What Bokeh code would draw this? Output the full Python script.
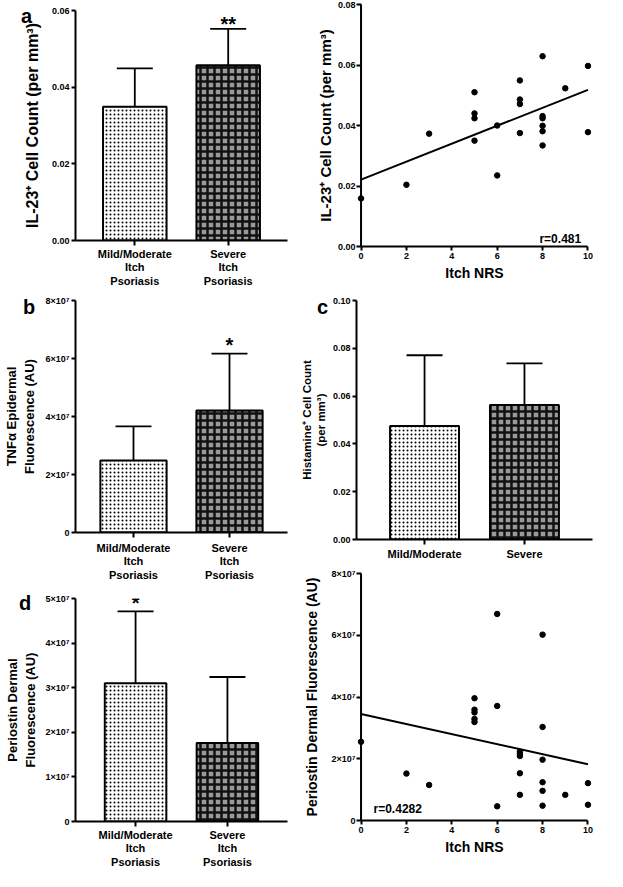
from bokeh.plotting import figure
from bokeh.models import (FactorRange, Range1d, FixedTicker, Whisker, TeeHead,
                          ColumnDataSource, Label, Span, NumeralTickFormatter, Div)
from bokeh.layouts import row, column
from bokeh.core.properties import value
from bokeh.embed import file_html
from bokeh.resources import INLINE

FONT = "Liberation Sans"

# ---------------- data ----------------
groups = ["Mild/Moderate\nItch\nPsoriasis", "Severe\nItch\nPsoriasis"]
groups_c = ["Mild/Moderate", "Severe"]
panel_letters = ["a", "b", "c", "d"]

il23_mean = [0.0349, 0.0457]
il23_err = [0.0100, 0.0095]
il23_sig = ["", "**"]
il23_ticks = [0.0, 0.02, 0.04, 0.06]

tnf_mean = [2.48e7, 4.21e7]
tnf_err = [1.18e7, 1.96e7]
tnf_sig = ["", "*"]
tnf_ticks = [0, 20000000, 40000000, 60000000, 80000000]
tnf_tick_labels = ["0", "2×10⁷", "4×10⁷", "6×10⁷", "8×10⁷"]

hist_mean = [0.0475, 0.0563]
hist_err = [0.0296, 0.0174]
hist_ticks = [0.0, 0.02, 0.04, 0.06, 0.08, 0.10]

peri_mean = [3.10e7, 1.76e7]
peri_err = [1.61e7, 1.48e7]
peri_sig = ["*", ""]
peri_ticks = [0, 10000000, 20000000, 30000000, 40000000, 50000000]
peri_tick_labels = ["0", "1×10⁷", "2×10⁷", "3×10⁷", "4×10⁷", "5×10⁷"]

nrs_a = [0, 2, 3, 5, 5, 5, 5, 6, 6, 7, 7, 7, 7, 8, 8, 8, 8, 8, 8, 9, 10, 10]
il23_pts = [0.0159, 0.0204, 0.0373, 0.0510, 0.0440, 0.0424, 0.0350, 0.0400, 0.0235,
            0.0549, 0.0486, 0.0471, 0.0375, 0.0629, 0.0431, 0.0424, 0.0399, 0.0381,
            0.0334, 0.0523, 0.0597, 0.0378]
fit_a_x = [0, 10]
fit_a_y = [0.0221, 0.0518]
r_a = "r=0.481"

nrs_d = [0, 2, 3, 5, 5, 5, 5, 5, 6, 6, 6, 7, 7, 7, 7, 7, 8, 8, 8, 8, 8, 8, 9, 10, 10]
peri_pts = [2.55e7, 1.52e7, 1.15e7, 3.96e7, 3.59e7, 3.50e7, 3.29e7, 3.19e7, 6.69e7,
            3.71e7, 0.46e7, 2.23e7, 2.16e7, 2.09e7, 1.53e7, 0.83e7, 6.02e7, 3.03e7,
            1.97e7, 1.24e7, 0.96e7, 0.48e7, 0.83e7, 1.21e7, 0.51e7]
fit_d_x = [0, 10]
fit_d_y = [3.45e7, 1.82e7]
r_d = "r=0.4282"

nrs_ticks = [0, 2, 4, 6, 8, 10]
il23_sc_ticks = [0.0, 0.02, 0.04, 0.06, 0.08]
peri_sc_ticks = [0, 20000000, 40000000, 60000000, 80000000]
peri_sc_labels = ["0", "2×10⁷", "4×10⁷", "6×10⁷", "8×10⁷"]

LW, LH = 20, 22  # box of the panel-letter element


def letter_box(letter, host_h, ty, lx):
    """Panel letter, overlaid on its host figure through negative margins."""
    return Div(text=letter, width=LW, height=LH,
               margin=(-host_h + ty, 0, host_h - ty - LH, lx),
               styles={"font-family": FONT, "font-weight": "bold", "font-size": "20px",
                       "line-height": "20px", "color": "black", "overflow": "visible",
                       "flex-shrink": "0", "padding": "0"})


def base_fig(w, h, x_range, y_range, mbl, mbr, mbt, mbb):
    p = figure(width=w, height=h, x_range=x_range, y_range=y_range,
               output_backend="svg", toolbar_location=None,
               min_border_left=mbl, min_border_right=mbr,
               min_border_top=mbt, min_border_bottom=mbb)
    p.xgrid.visible = False
    p.ygrid.visible = False
    p.outline_line_color = None
    p.background_fill_color = "white"
    p.border_fill_alpha = 0
    for ax in p.axis:
        ax.axis_line_width = 2
        ax.axis_line_color = "black"
        ax.major_tick_line_width = 2
        ax.major_tick_line_color = "black"
        ax.major_tick_out = 4
        ax.major_tick_in = 0
        ax.minor_tick_out = 0
        ax.minor_tick_in = 0
        ax.major_label_text_font = FONT
        ax.major_label_text_font_style = "bold"
        ax.major_label_text_color = "black"
        ax.major_label_standoff = 2
        ax.axis_label_text_font = FONT
        ax.axis_label_text_font_style = "bold"
        ax.axis_label_text_color = "black"
    return p


def bar_panel(w, h, cats, means, errs, ymax, ticks, pad, bw, mbl, mbr, mbt, mbb,
              ytitle, ytitle_size, ytitle_standoff, tick_size, cat_standoff,
              sig=None, sig_offset=0, tick_labels=None):
    p = base_fig(w, h, FactorRange(*cats, range_padding=pad), Range1d(0, ymax),
                 mbl, mbr, mbt, mbb)
    src = ColumnDataSource(dict(x=cats, top=means,
                                upper=[m + e for m, e in zip(means, errs)]))
    p.add_layout(Whisker(source=src, base="x", lower="top", upper="upper",
                         line_width=1.8, line_color="black", lower_head=None,
                         upper_head=TeeHead(size=36, line_width=1.8, line_color="black")))
    p.vbar(x=cats[:1], top=means[:1], width=bw, bottom=0,
           fill_color="white", line_color="black", line_width=2,
           hatch_pattern=".", hatch_color="black", hatch_scale=4, hatch_weight=1)
    p.vbar(x=cats[1:], top=means[1:], width=bw, bottom=0,
           fill_color="#9a9a9a", line_color="black", line_width=2,
           hatch_pattern="+", hatch_color="#111111", hatch_scale=7, hatch_weight=2.5)
    if sig is not None:
        p.text(x=cats, y=[m + e for m, e in zip(means, errs)], text=sig,
               text_font=value(FONT), text_font_style="bold", text_font_size="20px",
               text_align="center", text_baseline="alphabetic", y_offset=sig_offset,
               text_color="black")
    p.yaxis.ticker = FixedTicker(ticks=ticks)
    if tick_labels is None:
        p.yaxis.formatter = NumeralTickFormatter(format="0.00")
    else:
        p.yaxis.major_label_overrides = {t: l for t, l in zip(ticks, tick_labels)}
    p.yaxis.major_label_text_font_size = tick_size
    p.yaxis.axis_label = ytitle
    p.yaxis.axis_label_text_font_size = ytitle_size
    p.yaxis.axis_label_standoff = ytitle_standoff
    p.xaxis.major_label_text_font_size = "11px"
    p.xaxis.major_label_text_line_height = 1.15
    p.xaxis.major_label_standoff = cat_standoff
    p.xaxis.major_tick_out = 5
    return p


def scatter_panel(w, h, xs, ys, fx, fy, ymax, yticks, mbl, mbr, mbt, mbb,
                  ytitle, ytitle_size, ytitle_standoff, tick_size, rtext, rx, ry, ralign,
                  ytick_labels=None):
    p = base_fig(w, h, Range1d(-0.2, 10.2), Range1d(0, ymax), mbl, mbr, mbt, mbb)
    p.add_layout(Span(location=0, dimension="height", line_width=2, line_color="black"))
    p.line(fx, fy, line_width=2, line_color="black")
    p.scatter(xs, ys, size=5.5, color="black")
    p.yaxis.axis_line_color = None
    p.yaxis.major_tick_out = 0
    p.yaxis.major_tick_in = 5
    p.yaxis.major_label_standoff = 1
    p.xaxis.bounds = (0, 10)
    p.xaxis.ticker = FixedTicker(ticks=nrs_ticks)
    p.yaxis.ticker = FixedTicker(ticks=yticks)
    if ytick_labels is None:
        p.yaxis.formatter = NumeralTickFormatter(format="0.00")
    else:
        p.yaxis.major_label_overrides = {t: l for t, l in zip(yticks, ytick_labels)}
    p.yaxis.major_label_text_font_size = tick_size
    p.xaxis.major_label_text_font_size = "9px"
    p.yaxis.axis_label = ytitle
    p.yaxis.axis_label_text_font_size = ytitle_size
    p.yaxis.axis_label_standoff = ytitle_standoff
    p.xaxis.axis_label = "Itch NRS"
    p.xaxis.axis_label_text_font_size = "14px"
    p.xaxis.axis_label_standoff = 3
    p.add_layout(Label(x=rx, y=ry, text=rtext, text_font=FONT, text_font_style="bold",
                       text_font_size="12px", text_align=ralign,
                       text_baseline="alphabetic", text_color="black"))
    return p


HA, HB, HD = 290, 294, 287
HA2, HC, HD2 = 288, 277, 306

pa = bar_panel(297, HA, groups, il23_mean, il23_err, 0.06, il23_ticks, 0.135, 0.68,
               68, 2, 10, 45, "IL-23⁺ Cell Count (per mm³)", "16px", 8, "9px", 2,
               sig=il23_sig, sig_offset=-5)
pb = bar_panel(297, HB, groups, tnf_mean, tnf_err, 8e7, tnf_ticks, 0.104, 0.69,
               66, 8, 10, 47, "TNFα Epidermal\nFluorescence (AU)", "13px", 6, "9px", 4,
               sig=tnf_sig, sig_offset=-9, tick_labels=tnf_tick_labels)
pd = bar_panel(297, HD, groups, peri_mean, peri_err, 5e7, peri_ticks, 0.154, 0.67,
               62, 10, 14, 45, "Periostin Dermal\nFluorescence (AU)", "13px", 5, "9px", 2,
               sig=peri_sig, sig_offset=-8, tick_labels=peri_tick_labels)

pa2 = scatter_panel(310, HA2, nrs_a, il23_pts, fit_a_x, fit_a_y, 0.08, il23_sc_ticks,
                    51, 8, 4, 42, "IL-23⁺ Cell Count (per mm³)", "15px", 1, "9px",
                    r_a, 9.7, 0.0025, "right")
pc = bar_panel(310, HC, groups_c, hist_mean, hist_err, 0.10, hist_ticks, 0.181, 0.69,
               54, 15, 12, 26, "Histamine⁺ Cell Count\n(per mm³)", "11.5px", 3, "9px", 3)
pd2 = scatter_panel(310, HD2, nrs_d, peri_pts, fit_d_x, fit_d_y, 8e7, peri_sc_ticks,
                    53, 1, 8, 51, "Periostin Dermal Fluorescence (AU)", "14px", 9, "9px",
                    r_d, 0.55, 0.38e7, "left", ytick_labels=peri_sc_labels)

la = letter_box(panel_letters[0], HA, 6, 21)
lb = letter_box(panel_letters[1], HB, 7, 23)
lc = letter_box(panel_letters[2], HC, 9, 20)
ld = letter_box(panel_letters[3], HD, 9, 19)

left = column(pa, la, pb, lb, pd, ld, spacing=0)
right = column(pa2, pc, lc, pd2, spacing=0)
layout = row(left, right, spacing=0)

open("out.html", "w").write(file_html(layout, INLINE))
